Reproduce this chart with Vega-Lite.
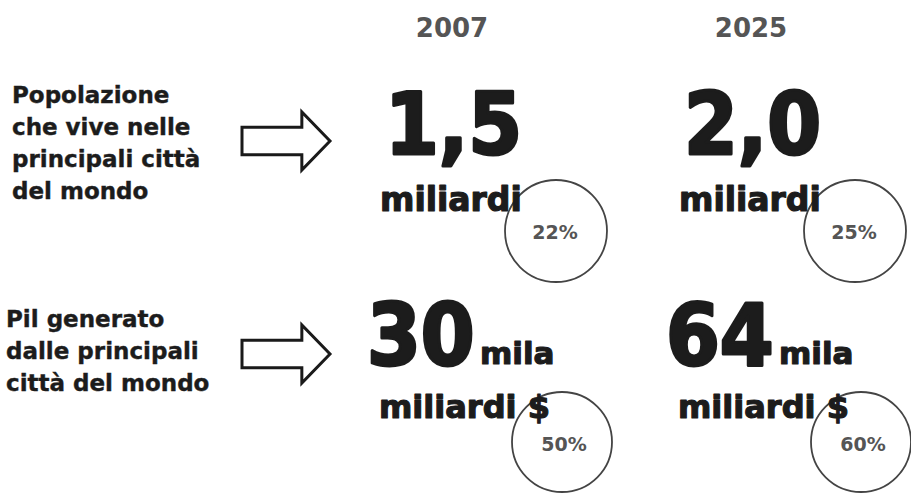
{
  "$schema": "https://vega.github.io/schema/vega-lite/v6.json",
  "width": 911,
  "height": 494,
  "padding": 0,
  "autosize": {"type": "fit", "contains": "padding"},
  "background": "white",
  "config": {"view": {"stroke": null}, "text": {"font": "DejaVu Sans", "fontWeight": "bold", "fill": "#1c1c1c", "baseline": "alphabetic"}},
  "datasets": {
    "rows": [
      {"metric": "Popolazione", "label": "Popolazione\nche vive nelle\nprincipali città\ndel mondo"},
      {"metric": "Pil", "label": "Pil generato\ndalle principali\ncittà del mondo"}
    ],
    "values": [
      {"metric": "Popolazione", "year": "2007", "value": "1,5", "suffix": "", "unit": "miliardi", "share": "22%"},
      {"metric": "Popolazione", "year": "2025", "value": "2,0", "suffix": "", "unit": "miliardi", "share": "25%"},
      {"metric": "Pil", "year": "2007", "value": "30", "suffix": "mila", "unit": "miliardi $", "share": "50%"},
      {"metric": "Pil", "year": "2025", "value": "64", "suffix": "mila", "unit": "miliardi $", "share": "60%"}
    ]
  },
  "encoding": {
    "y": {"field": "metric", "type": "nominal", "axis": null, "scale": {"type": "point", "domain": ["Popolazione", "Pil"], "range": [141, 354], "padding": 0}}
  },
  "layer": [
    {
      "data": {"name": "rows"},
      "mark": {"type": "point", "shape": "M -1 -0.31 L 0.36 -0.31 L 0.36 -0.66 L 1 0 L 0.36 0.66 L 0.36 0.31 L -1 0.31 Z", "size": 7744, "filled": true, "fill": "white", "stroke": "#1a1a1a", "strokeWidth": 3, "opacity": 1, "xOffset": -166},
      "encoding": {"x": {"datum": "2007", "type": "nominal", "axis": null, "scale": {"type": "point", "domain": ["2007", "2025"], "range": [452, 751], "padding": 0}}}
    },
    {
      "data": {"name": "rows"},
      "transform": [{"filter": "datum.metric === 'Popolazione'"}],
      "mark": {"type": "text", "align": "left", "fontSize": 23, "lineHeight": 32, "lineBreak": "\n", "dx": -440, "dy": -38, "stroke": "#1c1c1c", "strokeWidth": 0.4},
      "encoding": {"x": {"datum": "2007", "type": "nominal"}, "text": {"field": "label"}}
    },
    {
      "data": {"name": "rows"},
      "transform": [{"filter": "datum.metric === 'Pil'"}],
      "mark": {"type": "text", "align": "left", "fontSize": 23, "lineHeight": 32, "lineBreak": "\n", "dx": -446, "dy": -27, "stroke": "#1c1c1c", "strokeWidth": 0.4},
      "encoding": {"x": {"datum": "2007", "type": "nominal"}, "text": {"field": "label"}}
    },
    {
      "data": {"name": "values"},
      "transform": [{"filter": "datum.metric === 'Popolazione'"}],
      "mark": {"type": "text", "align": "center", "fontSize": 26, "fill": "#555555", "dy": -104},
      "encoding": {"x": {"field": "year", "type": "nominal"}, "text": {"field": "year"}}
    },
    {
      "data": {"name": "values"},
      "transform": [{"filter": "datum.metric === 'Popolazione'"}],
      "mark": {"type": "point", "shape": "circle", "size": 10400, "filled": false, "stroke": "#444444", "strokeWidth": 1.8, "opacity": 1, "xOffset": 104, "yOffset": 90},
      "encoding": {"x": {"field": "year", "type": "nominal"}}
    },
    {
      "data": {"name": "values"},
      "transform": [{"filter": "datum.metric === 'Pil'"}],
      "mark": {"type": "point", "shape": "circle", "size": 10000, "filled": false, "stroke": "#444444", "strokeWidth": 1.8, "opacity": 1, "xOffset": 110, "yOffset": 88},
      "encoding": {"x": {"field": "year", "type": "nominal"}}
    },
    {
      "data": {"name": "values"},
      "transform": [{"filter": "datum.metric === 'Popolazione'"}],
      "mark": {"type": "text", "align": "left", "font": "DejaVu Sans Condensed", "fontSize": 86, "dx": -67, "dy": 13, "stroke": "#1c1c1c", "strokeWidth": 3, "strokeJoin": "round"},
      "encoding": {"x": {"field": "year", "type": "nominal"}, "text": {"field": "value"}}
    },
    {
      "data": {"name": "values"},
      "transform": [{"filter": "datum.metric === 'Pil'"}],
      "mark": {"type": "text", "align": "left", "font": "DejaVu Sans Condensed", "fontSize": 86, "dx": -85, "dy": 11, "stroke": "#1c1c1c", "strokeWidth": 3, "strokeJoin": "round"},
      "encoding": {"x": {"field": "year", "type": "nominal"}, "text": {"field": "value"}}
    },
    {
      "data": {"name": "values"},
      "transform": [{"filter": "datum.metric === 'Pil'"}],
      "mark": {"type": "text", "align": "left", "fontSize": 31, "dx": 28, "dy": 10, "stroke": "#1c1c1c", "strokeWidth": 1.2, "strokeJoin": "round"},
      "encoding": {"x": {"field": "year", "type": "nominal"}, "text": {"field": "suffix"}}
    },
    {
      "data": {"name": "values"},
      "transform": [{"filter": "datum.metric === 'Popolazione'"}],
      "mark": {"type": "text", "align": "left", "fontSize": 33, "dx": -72, "dy": 70, "stroke": "#1c1c1c", "strokeWidth": 1.2, "strokeJoin": "round"},
      "encoding": {"x": {"field": "year", "type": "nominal"}, "text": {"field": "unit"}}
    },
    {
      "data": {"name": "values"},
      "transform": [{"filter": "datum.metric === 'Pil'"}],
      "mark": {"type": "text", "align": "left", "fontSize": 32, "dx": -73, "dy": 64, "stroke": "#1c1c1c", "strokeWidth": 1.2, "strokeJoin": "round"},
      "encoding": {"x": {"field": "year", "type": "nominal"}, "text": {"field": "unit"}}
    },
    {
      "data": {"name": "values"},
      "transform": [{"filter": "datum.metric === 'Popolazione'"}],
      "mark": {"type": "text", "align": "center", "fontSize": 19, "fill": "#555555", "dx": 103, "dy": 98},
      "encoding": {"x": {"field": "year", "type": "nominal"}, "text": {"field": "share"}}
    },
    {
      "data": {"name": "values"},
      "transform": [{"filter": "datum.metric === 'Pil'"}],
      "mark": {"type": "text", "align": "center", "fontSize": 19, "fill": "#555555", "dx": 112, "dy": 97},
      "encoding": {"x": {"field": "year", "type": "nominal"}, "text": {"field": "share"}}
    }
  ]
}
